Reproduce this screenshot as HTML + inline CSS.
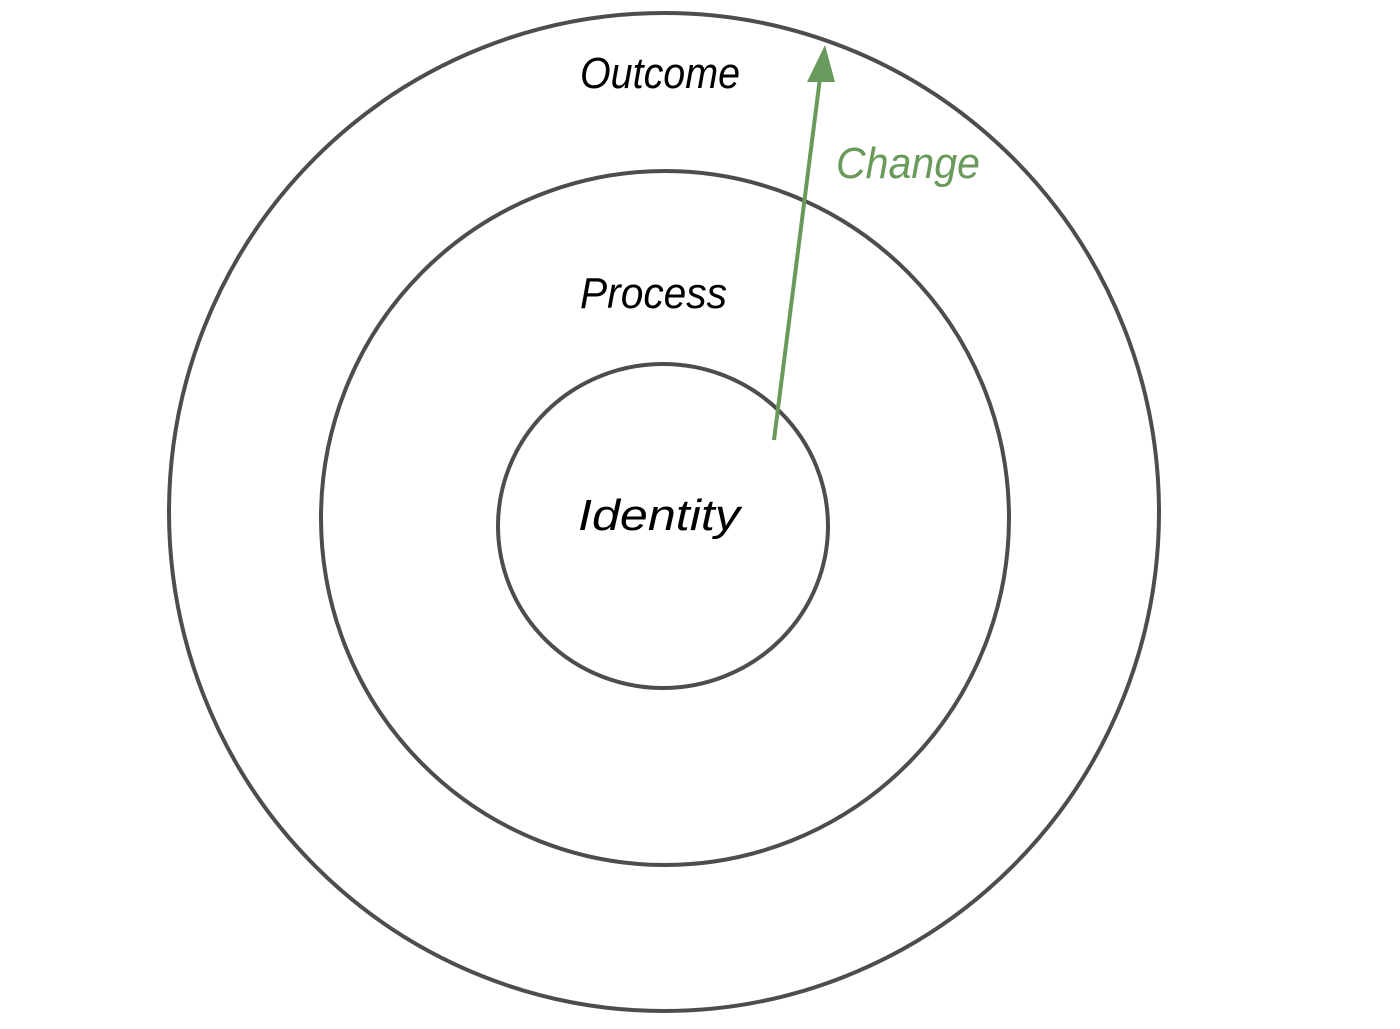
<!DOCTYPE html>
<html><head><style>html,body{margin:0;padding:0;background:#fff;width:1400px;height:1029px;overflow:hidden}</style></head>
<body>
<svg width="1400" height="1029" viewBox="0 0 1400 1029" xmlns="http://www.w3.org/2000/svg">
<g fill="none" stroke="#4d4d4d" stroke-width="4">
<ellipse cx="664" cy="512" rx="495" ry="499"/>
<ellipse cx="665" cy="518" rx="344" ry="347"/>
<ellipse cx="663" cy="526" rx="165" ry="162"/>
</g>
<line x1="774" y1="440" x2="820" y2="78" stroke="#6a9a5b" stroke-width="4"/>
<polygon points="825,45 807,82 835,82" fill="#6a9a5b"/>
<g font-family="Liberation Sans, sans-serif" font-style="italic" font-size="44" fill="#000">
<text x="580" y="88" textLength="160" lengthAdjust="spacingAndGlyphs">Outcome</text>
<text x="580" y="308" textLength="147" lengthAdjust="spacingAndGlyphs">Process</text>
<text x="578" y="530" textLength="162" lengthAdjust="spacingAndGlyphs">Identity</text>
<text x="836" y="178" textLength="144" lengthAdjust="spacingAndGlyphs" fill="#6a9a5b">Change</text>
</g>
</svg>
</body></html>
